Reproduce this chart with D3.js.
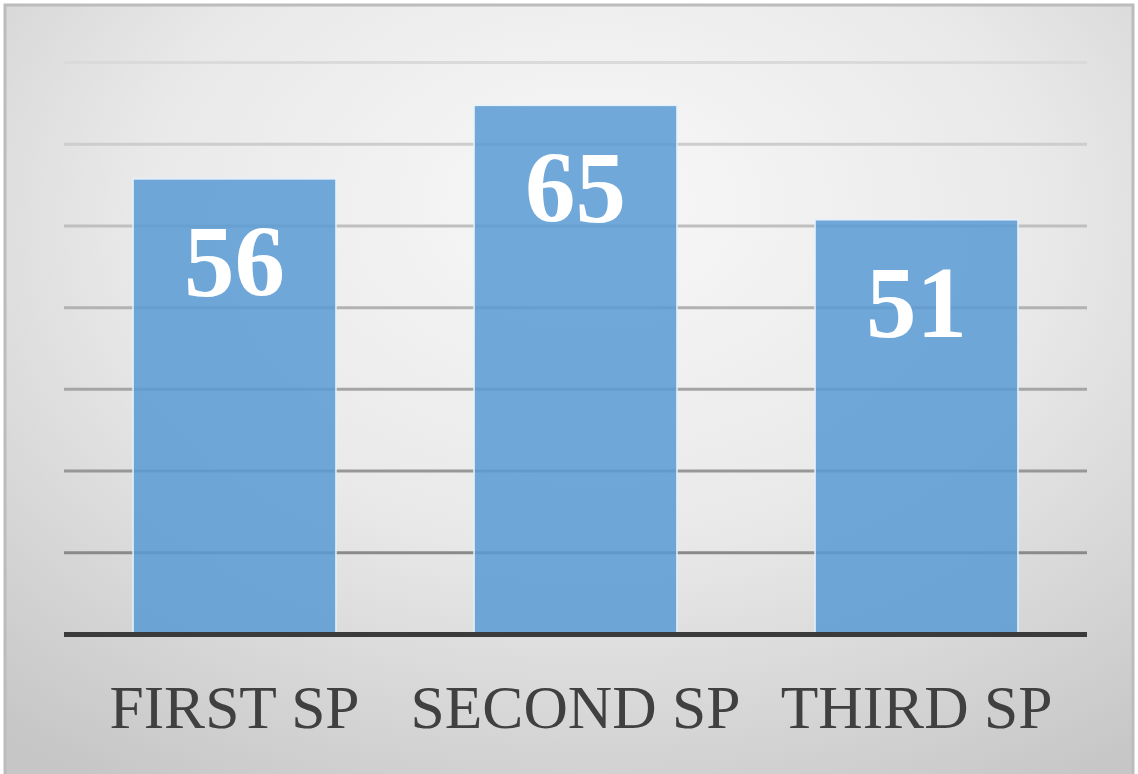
<!DOCTYPE html>
<html>
<head>
<meta charset="utf-8">
<script src="https://cdn.jsdelivr.net/npm/d3@7"></script>
<style>
  html, body { margin: 0; padding: 0; background: #ffffff; }
  svg { display: block; }
</style>
</head>
<body>
<svg id="chart" width="1138" height="774"></svg>
<script>
const categories = ["FIRST SP", "SECOND SP", "THIRD SP"];
const values = [56, 65, 51];
const gridTicks = [0, 10, 20, 30, 40, 50, 60, 70];

const W = 1138, H = 774;
const margin = { left: 64, right: 51, top: 62.5, bottom: 139.5 };
const svg = d3.select("#chart");

const defs = svg.append("defs");
const rg = defs.append("radialGradient")
  .attr("id", "bg").attr("cx", "52%").attr("cy", "30%").attr("r", "80%")
  .attr("fx", "52%").attr("fy", "24%");
rg.append("stop").attr("offset", "0%").attr("stop-color", "#f8f8f8");
rg.append("stop").attr("offset", "50%").attr("stop-color", "#e9e9e9");
rg.append("stop").attr("offset", "100%").attr("stop-color", "#c6c6c6");

svg.append("rect").attr("x", 5).attr("y", 5).attr("width", 1128).attr("height", 800)
  .attr("fill", "url(#bg)").attr("stroke", "#bcbcbc").attr("stroke-width", 3);

const x = d3.scaleBand().domain(categories)
  .range([margin.left, W - margin.right]).paddingInner(0.405).paddingOuter(0.2025);
const y = d3.scaleLinear().domain([0, 70]).range([H - margin.bottom, margin.top]);

const gridColor = d3.scaleLinear().domain([10, 70]).range(["#8a8a8a", "#dadada"]);

// gridlines
svg.append("g").selectAll("line").data(gridTicks.filter(t => t > 0)).join("line")
  .attr("x1", margin.left).attr("x2", W - margin.right)
  .attr("y1", d => y(d)).attr("y2", d => y(d))
  .attr("stroke", d => gridColor(d)).attr("stroke-width", 3);

// bars
svg.append("g").selectAll("rect").data(values).join("rect")
  .attr("x", (d, i) => x(categories[i]))
  .attr("width", x.bandwidth())
  .attr("y", d => y(d) + 2)
  .attr("height", d => y(0) - y(d) - 2)
  .attr("fill", "#5b9bd5").attr("fill-opacity", 0.86)
  .attr("stroke", "#e6f1fb").attr("stroke-width", 1.5);

// baseline axis
const xAxis = d3.axisBottom(x).tickSize(0).tickPadding(0);
const ax = svg.append("g").attr("transform", `translate(0,${y(0)})`).call(xAxis);
ax.select(".domain").attr("stroke", "#3b3b3b").attr("stroke-width", 5)
  .attr("d", `M${margin.left},0H${W - margin.right}`);
ax.selectAll(".tick text")
  .attr("dy", null).attr("y", 93)
  .attr("font-family", "'Liberation Serif', 'Times New Roman', serif")
  .attr("font-size", 61.5).attr("fill", "#404040");

// value labels
svg.append("g").selectAll("text").data(values).join("text")
  .attr("x", (d, i) => x(categories[i]) + x.bandwidth() / 2)
  .attr("y", d => y(d) + 119)
  .attr("text-anchor", "middle")
  .attr("font-family", "'Liberation Serif', 'Times New Roman', serif")
  .attr("font-weight", "bold").attr("font-size", 101)
  .attr("fill", "#ffffff")
  .text(d => d);
</script>
</body>
</html>
